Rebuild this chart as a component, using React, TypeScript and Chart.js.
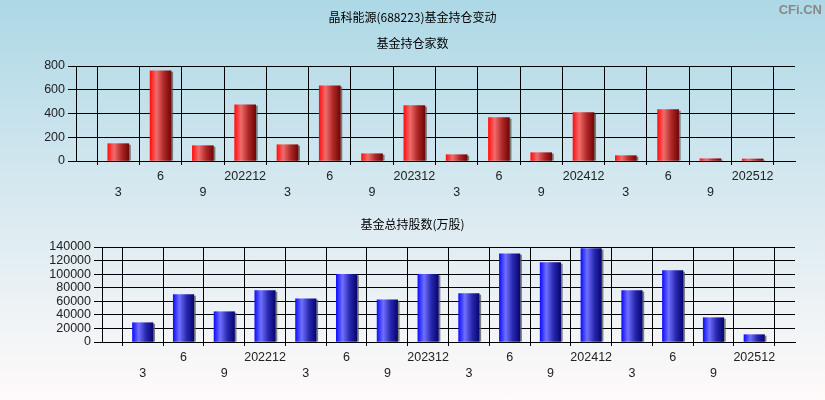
import React, { useEffect, useRef } from 'react';
import { Chart, registerables } from 'chart.js';

Chart.register(...registerables);

// ---- data ----
const periods = ['202203', '202206', '202209', '202212', '202303', '202306', '202309', '202312',
  '202403', '202406', '202409', '202412', '202503', '202506', '202509', '202512'];
const tickLabels = ['3', '6', '9', '202212', '3', '6', '9', '202312', '3', '6', '9', '202412', '3', '6', '9', '202512'];
const holderCounts = [146, 760, 129, 474, 137, 634, 61, 466, 53, 365, 70, 407, 45, 432, 19, 17];
const sharesWan = [28400, 69700, 44600, 75600, 63800, 99600, 62300, 99600, 71200, 130100, 116900, 137500, 75600, 105100, 35800, 10800];

const mainTitle = '晶科能源(688223)基金持仓变动';
const topTitle = '基金持仓家数';
const bottomTitle = '基金总持股数(万股)';
const watermark = 'CFi.CN';

const W = 825;
const H = 200;

const tickFont = { family: "'Liberation Sans Narrow', 'Liberation Sans', Arial, sans-serif", size: 12.5, lineHeight: '16px' };
const cjkFont = "12px 'Noto Sans CJK SC', sans-serif";

type TextItem = { text: string; x: number; y: number; font: string; color: string; align: CanvasTextAlign };

function textPlugin(items: TextItem[]) {
  return {
    id: 'fixedTexts',
    afterDraw(chart: any) {
      const ctx = chart.ctx;
      ctx.save();
      ctx.textBaseline = 'middle';
      items.forEach((it) => {
        ctx.font = it.font;
        ctx.fillStyle = it.color;
        ctx.textAlign = it.align;
        ctx.fillText(it.text, it.x, it.y);
      });
      ctx.restore();
    },
  };
}

const shadowPlugin = {
  id: 'barShadow',
  beforeDatasetDraw(chart: any, args: any) {
    const ctx = chart.ctx;
    const raw = chart.data.datasets[args.index].data;
    ctx.save();
    ctx.fillStyle = 'rgba(95,95,95,0.8)';
    args.meta.data.forEach((el: any, i: number) => {
      if (raw[i] === null || raw[i] === undefined) return;
      const p = el.getProps(['x', 'y', 'base', 'width'], true);
      if (!Number.isFinite(p.y) || !Number.isFinite(p.x)) return;
      ctx.fillRect(p.x + p.width / 2, p.y + 1, 2, p.base - p.y - 1);
    });
    ctx.restore();
  },
};

function gradientFill(stops: [number, string][], barW: number) {
  return (c: any) => {
    const chart = c.chart;
    if (!chart.chartArea || c.dataIndex === undefined) return stops[0][1];
    const x = chart.scales.x.getPixelForValue(c.dataIndex);
    const g = chart.ctx.createLinearGradient(x - barW / 2, 0, x + barW / 2, 0);
    stops.forEach(([o, col]) => g.addColorStop(o, col));
    return g;
  };
}

function buildChart(
  canvas: HTMLCanvasElement,
  values: number[],
  max: number,
  step: number,
  left: number,
  top: number,
  bottom: number,
  barW: number,
  stops: [number, string][],
  texts: TextItem[],
) {
  const labels = ['', ...tickLabels, ''];
  const data = [null, ...values, null];
  return new Chart(canvas, {
    type: 'bar',
    data: {
      labels,
      datasets: [
        {
          data,
          backgroundColor: gradientFill(stops, barW),
          borderWidth: 0,
          barThickness: barW,
        } as any,
      ],
    },
    options: {
      responsive: false,
      animation: false,
      events: [],
      layout: { padding: { left: 0, right: 30, top, bottom: 0 } },
      plugins: { legend: { display: false }, title: { display: false }, tooltip: { enabled: false } },
      scales: {
        x: {
          type: 'category',
          offset: false,
          afterFit: (s: any) => {
            s.height = H - bottom;
          },
          grid: { color: '#000', lineWidth: 1, tickLength: 4, tickColor: '#000', drawOnChartArea: true },
          border: { color: '#000', width: 1 },
          ticks: {
            autoSkip: false,
            maxRotation: 0,
            minRotation: 0,
            padding: 4,
            color: '#222',
            font: tickFont,
            callback: function (this: any, v: any, i: number) {
              const l = labels[i];
              if (l === '3' || l === '9') return ['', l];
              return l;
            },
          },
        },
        y: {
          min: 0,
          max,
          afterFit: (s: any) => {
            s.width = left;
          },
          grid: { color: '#000', lineWidth: 1, tickLength: 8, tickColor: '#000' },
          border: { color: '#000', width: 1 },
          ticks: {
            stepSize: step,
            autoSkip: false,
            padding: 3,
            color: '#222',
            font: { ...tickFont, lineHeight: 1.0 },
            callback: (v: any) => String(v),
          },
        },
      },
    },
    plugins: [shadowPlugin, textPlugin(texts)],
  } as any);
}

const redStops: [number, string][] = [
  [0, '#ff1010'],
  [0.3, '#f06c6c'],
  [0.65, '#b02828'],
  [1, '#720606'],
];
const blueStops: [number, string][] = [
  [0, '#1010ff'],
  [0.3, '#7070ff'],
  [0.65, '#2828b0'],
  [1, '#060672'],
];

export default function App() {
  const topRef = useRef<HTMLCanvasElement>(null);
  const botRef = useRef<HTMLCanvasElement>(null);

  useEffect(() => {
    const c1 = buildChart(topRef.current!, holderCounts, 800, 200, 76, 66, 161, 21, redStops, [
      { text: mainTitle, x: W / 2, y: 17, font: cjkFont, color: '#000', align: 'center' },
      { text: topTitle, x: W / 2, y: 43, font: cjkFont, color: '#000', align: 'center' },
      { text: watermark, x: 822, y: 10, font: "bold 13px 'Liberation Sans', Arial, sans-serif", color: '#888', align: 'right' },
    ]);
    const c2 = buildChart(botRef.current!, sharesWan, 140000, 20000, 102, 47, 142, 20.5, blueStops, [
      { text: bottomTitle, x: W / 2, y: 24, font: cjkFont, color: '#000', align: 'center' },
    ]);
    return () => {
      c1.destroy();
      c2.destroy();
    };
  }, []);

  return (
    <div
      style={{
        position: 'absolute',
        left: 0,
        top: 0,
        width: W,
        height: 400,
        background: 'linear-gradient(to bottom, #add8e6 0%, #d8e9f0 50%, #fffafa 100%)',
        overflow: 'hidden',
      }}
    >
      <canvas ref={topRef} width={W} height={H} style={{ position: 'absolute', left: 0, top: 0, width: W, height: H }} />
      <canvas ref={botRef} width={W} height={H} style={{ position: 'absolute', left: 0, top: 200, width: W, height: H }} />
    </div>
  );
}
